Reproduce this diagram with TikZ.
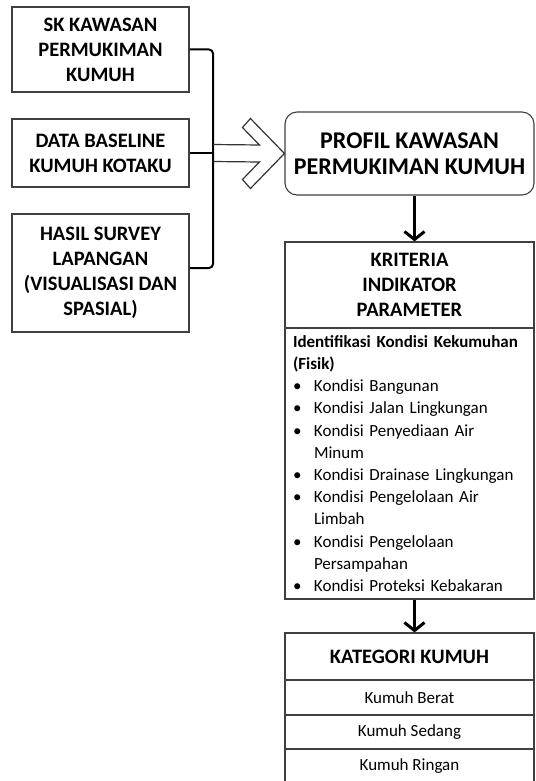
\documentclass[tikz,border=0pt]{standalone}
\usepackage{fontspec}
\setmainfont{Carlito}
\usetikzlibrary{arrows.meta,calc}

\newcommand{\butir}[1]{\par\hangindent=21pt\hangafter=1\noindent\makebox[21pt][l]{\textbullet}#1}

\begin{document}
\begin{tikzpicture}[x=1pt, y=-1pt,
    box/.style={draw=black!75, line width=1.1pt, fill=white, inner sep=0pt, align=center, font=\bfseries\fontsize{20.5}{25}\selectfont},
    row/.style={draw=black!75, line width=1.1pt, fill=white, inner sep=0pt, align=center, font=\fontsize{17}{20}\selectfont},
    bracket/.style={draw=black, line width=2pt, rounded corners=4pt},
    blockarrow/.style={draw=black!80, line width=1.2pt, line join=miter},
    arrow/.style={draw=black, line width=3pt, -{Straight Barb[length=8pt,width=20pt]}}]
        \useasboundingbox (0,0) rectangle (535,781);
        \clip (0,0) rectangle (535,781);

		\node[box, minimum width=177pt, minimum height=85pt] (sk)at(100.5,49.5) {SK KAWASAN\\PERMUKIMAN\\KUMUH};
		\node[box, minimum width=177pt, minimum height=68pt] (baseline)at(100.5,153) {DATA BASELINE\\KUMUH KOTAKU};
		\node[box, minimum width=177pt, minimum height=118pt] (survey)at(100.5,273) {HASIL SURVEY\\LAPANGAN\\(VISUALISASI DAN\\SPASIAL)};

		\node[box, rounded corners=12pt, minimum width=249pt, minimum height=83pt, font=\bfseries\fontsize{24}{26}\selectfont] (profil)at(409.5,153.5) {PROFIL KAWASAN\\PERMUKIMAN KUMUH};

		\node[box, minimum width=249pt, minimum height=86pt] (kriteria)at(409.5,285) {KRITERIA\\INDIKATOR\\PARAMETER};
		\node[row, minimum width=249pt, minimum height=271pt, inner xsep=8pt, text width=233pt, align=left, font=\fontsize{17}{22.2}\selectfont] (fisik)at(409.5,463.5) {%
            \noindent\makebox[228pt][s]{\bfseries Identifikasi Kondisi Kekumuhan}\newline
            {\bfseries (Fisik)}
            \butir{Kondisi Bangunan}
            \butir{Kondisi Jalan Lingkungan}
            \butir{Kondisi Penyediaan Air\newline Minum}
            \butir{Kondisi Drainase Lingkungan}
            \butir{Kondisi Pengelolaan Air\newline Limbah}
            \butir{Kondisi Pengelolaan\newline Persampahan}
            \butir{Kondisi Proteksi Kebakaran}};

		\node[box, minimum width=249pt, minimum height=47pt] (kategori)at(409.5,656.5) {KATEGORI KUMUH};
		\node[row, minimum width=249pt, minimum height=35pt] (berat)at(409.5,697.5) {Kumuh Berat};
		\node[row, minimum width=249pt, minimum height=34pt] (sedang)at(409.5,732) {Kumuh Sedang};
		\node[row, minimum width=249pt, minimum height=35pt] (ringan)at(409.5,766.5) {Kumuh Ringan};

        \coordinate (brk) at (213,153);
		\draw[bracket] (sk.east) -| (brk) |- ([yshift=5pt]survey.east);
		\draw[bracket] (baseline.east) -- (brk);

		\draw[blockarrow] ($(brk)+(0,-8.5)$) -- ($(profil.west)+(-25,-8.5)$) -- ($(profil.west)+(-42,-26)$)
            -- ($(profil.west)+(-34,-35)$) -- (profil.west) -- ($(profil.west)+(-34,35)$)
            -- ($(profil.west)+(-42,26)$) -- ($(profil.west)+(-25,8.5)$) -- ($(brk)+(0,8.5)$);

		\draw[arrow] ([xshift=5pt]profil.south) -- ([xshift=5pt]kriteria.north);
		\draw[arrow] ([xshift=5pt]fisik.south) -- ([xshift=5pt]kategori.north);
\end{tikzpicture}
\end{document}
